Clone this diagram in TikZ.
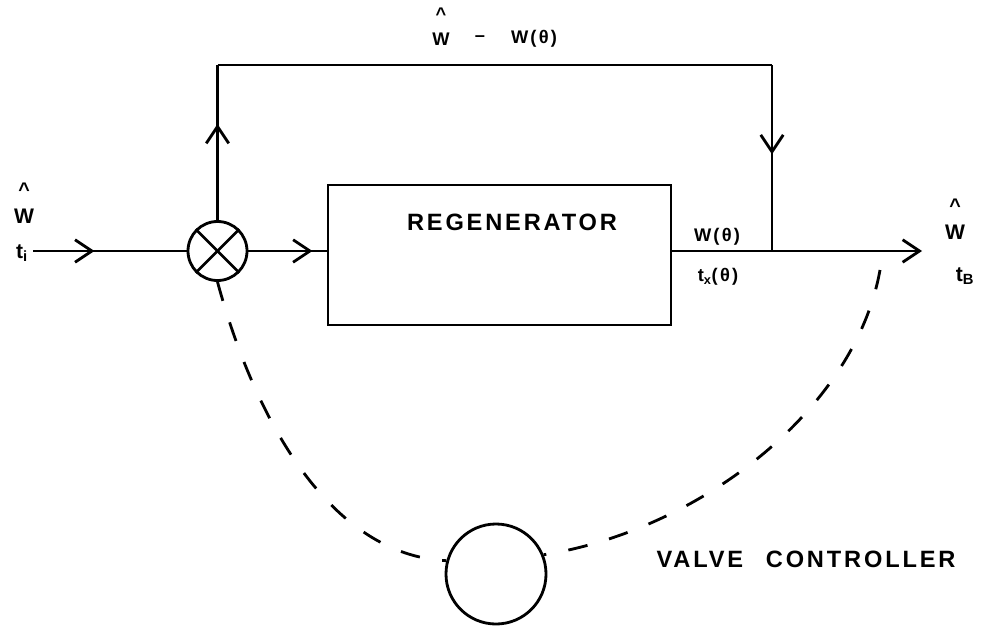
\documentclass[tikz,border=0pt]{standalone}
\usepackage{fontspec}
\setmainfont{Liberation Sans}
\newfontfamily\lett[LetterSpace=12]{Liberation Sans}
\newfontfamily\lets[LetterSpace=12]{Liberation Sans}
\usetikzlibrary{arrows.meta,decorations.markings}
\tikzset{
  barb/.tip={Straight Barb[length=12pt,width=16pt,line width=2pt]},
  ln/.style={line width=2pt},
  midarrow/.style={postaction={decorate},decoration={markings,mark=at position #1 with {\arrow{barb}}}},
  dsh/.style={line width=2pt,dash pattern=on 14pt off 16pt},
  lbl/.style={font=\lets\bfseries\fontsize{13}{15}\selectfont,inner sep=0pt},
  tl/.style={font=\lets\bfseries\fontsize{15}{15}\selectfont,inner sep=0pt},
  big/.style={font=\lett\bfseries\fontsize{16.8}{18}\selectfont,inner sep=0pt},
  hat/.style={font=\bfseries\fontsize{14}{14}\selectfont,inner sep=0pt}
}
\begin{document}
\begin{tikzpicture}[x=0.025cm,y=-0.025cm]
\useasboundingbox (0,0) rectangle (991,625);
% nodes
\node[ln,draw,minimum width=8.575cm,minimum height=3.5cm,inner sep=0pt] (regen) at (499.5,255) {};
\node[big] (regtxt) at (512,222) {REGENERATOR};
\node[ln,draw,circle,minimum size=1.475cm,inner sep=0pt] (mix) at (217.5,251) {};
\node[ln,draw,circle,minimum size=2.5cm,inner sep=0pt] (valve) at (496,574) {};
\coordinate (in) at (33,251);
\coordinate (out) at (922,251);
\coordinate (fbL) at (217.5,65);
\coordinate (fbR) at (772,65);
\coordinate (junc) at (772,251);
\coordinate (dashR) at (880,270);
% cross in mixer
\draw[ln] (mix.north west) -- (mix.south east);
\draw[ln] (mix.north east) -- (mix.south west);
% main line
\draw[ln,midarrow=0.40] (in) -- (mix.west);
\draw[ln,midarrow=0.82] (mix.east) -- (mix.east -| regen.west);
\draw[ln,-{barb}] (out -| regen.east) -- (out);
% feedback
\draw[ln,midarrow=0.62] (mix.north) -- (fbL);
\draw[ln] (fbL) -- (fbR);
\draw[ln,midarrow=0.48] (fbR) -- (junc);
% dashed links to valve controller
\draw[dsh] (mix.south) .. controls (255,420) and (330,555) .. (valve.165);
\draw[dsh] (dashR) .. controls (855,410) and (700,530) .. (valve.22);
% labels
\node[hat] (hin) at (24,190) {\^{}};
\node[tl] (win) at (24,216) {W};
\node[tl] (tin) at (22,253) {t\textsubscript{i}};
\node[hat] (hout) at (955,206) {\^{}};
\node[tl] (wout) at (955,232) {W};
\node[tl] (tout) at (965,276) {t\textsubscript{B}};
\node[lbl] (wth) at (717,237) {W(θ)};
\node[lbl] (txth) at (718,277) {t\textsubscript{x}(θ)};
\node[hat,font=\bfseries\fontsize{13}{13}\selectfont] (htop) at (441,14) {\^{}};
\node[lbl] (topw) at (441,39) {W};
\node[lbl] (topm) at (480,39) {–};
\node[lbl] (topwth) at (534,39) {W(θ)};
\node[font=\lett\bfseries\fontsize{16.8}{18}\selectfont,inner sep=0pt] (vc) at (806,559) {VALVE \, CONTROLLER};
\end{tikzpicture}
\end{document}
